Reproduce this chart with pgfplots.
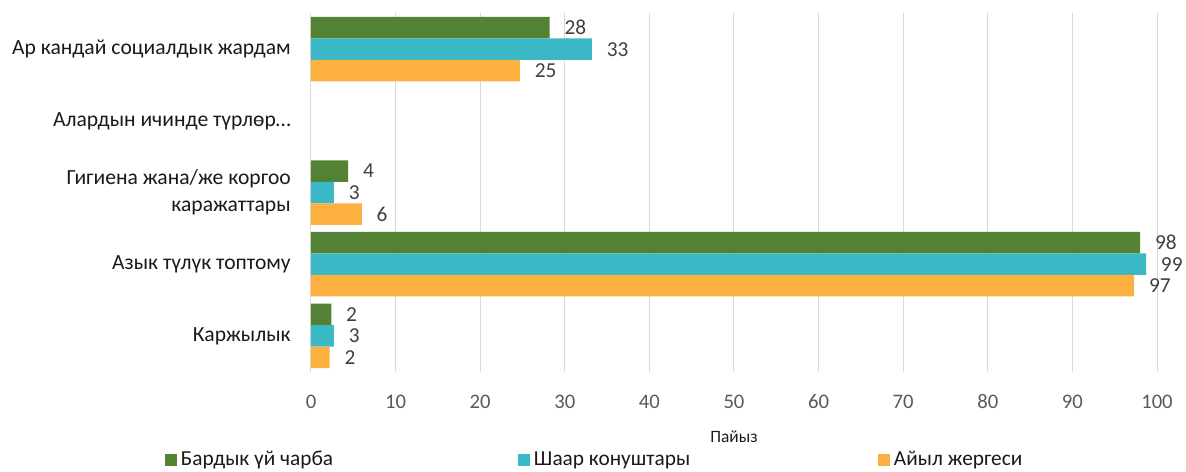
\documentclass[border=0pt]{standalone}
\usepackage{pgfplots}
\pgfplotsset{compat=1.18}
\usepackage{fontspec}
\setmainfont{Carlito}
\definecolor{cgreen}{HTML}{548235}
\definecolor{ccyan}{HTML}{3BB8C6}
\definecolor{corange}{HTML}{FBB040}
\definecolor{cgrid}{HTML}{D9D9D9}
\definecolor{ctick}{HTML}{595959}
\definecolor{clab}{HTML}{404040}
\definecolor{ctext}{HTML}{1A1A1A}
\begin{document}
\begin{tikzpicture}
\begin{axis}[
  at={(0,0)}, anchor=south west,
  scale only axis, width=634.5pt, height=268.8pt,
  xbar, bar width=0.3,
  xmin=0, xmax=100, ymin=-0.5, ymax=4.5, y dir=reverse,
  xtick={0,10,...,100},
  ytick={0,1,2,3,4},
  yticklabels={Ар кандай социалдык жардам, Алардын ичинде түрлөр…, {Гигиена жана/же коргоо\\каражаттары}, Азык түлүк топтому, Каржылык},
  /pgf/number format/assume math mode=true,
  axis line style={draw=none},
  major tick length=0pt,
  xmajorgrids, grid style={cgrid, line width=0.75pt},
  xticklabel style={font=\fontsize{15.5}{18}\selectfont, text=ctick, anchor=center, inner sep=0pt, yshift=-22.5pt},
  yticklabel style={font=\fontsize{16.2}{20}\selectfont, text=ctext, align=right, anchor=east, inner sep=0pt, xshift=-15pt},
  xlabel={Пайыз},
  xlabel style={at={(axis description cs:0.5,0)}, anchor=center, inner sep=0pt, yshift=-48.5pt, font=\fontsize{13}{15}\selectfont, text=ctext},
  nodes near coords,
  point meta=x,
  nodes near coords style={font=\fontsize{16}{18}\selectfont, text=clab, anchor=west, inner sep=0pt, xshift=11pt, /pgf/number format/fixed, /pgf/number format/precision=0, /pgf/number format/assume math mode=true},
  legend columns=3,
  legend style={at={(axis description cs:-0.17258,-0.2455)}, anchor=west, draw=none, fill=none, inner sep=0pt, outer sep=0pt, column sep=0pt, nodes={inner sep=0pt, anchor=west}, font=\fontsize{16}{18}\selectfont, text=ctext},
  legend image code/.code={\fill[#1, draw=none] (0pt,-4.5pt) rectangle (9pt,4.5pt); \path (0pt,0pt) -- (12pt,0pt);},
]
\addplot[fill=cgreen, draw=none, bar shift=-0.3] coordinates {(28.2,0) (4.4,2) (98.0,3) (2.4,4)};
\addlegendentry{\makebox[252.75pt][l]{Бардык үй чарба}}
\addplot[fill=ccyan, draw=none, bar shift=0] coordinates {(33.2,0) (2.7,2) (98.7,3) (2.7,4)};
\addlegendentry{\makebox[258pt][l]{Шаар конуштары}}
\addplot[fill=corange, draw=none, bar shift=0.3] coordinates {(24.7,0) (6.0,2) (97.3,3) (2.2,4)};
\addlegendentry{Айыл жергеси}
\end{axis}
\pgfresetboundingbox
\useasboundingbox (-233.25pt,-74.5pt) rectangle (656.25pt,278.8pt);
\end{tikzpicture}
\end{document}
